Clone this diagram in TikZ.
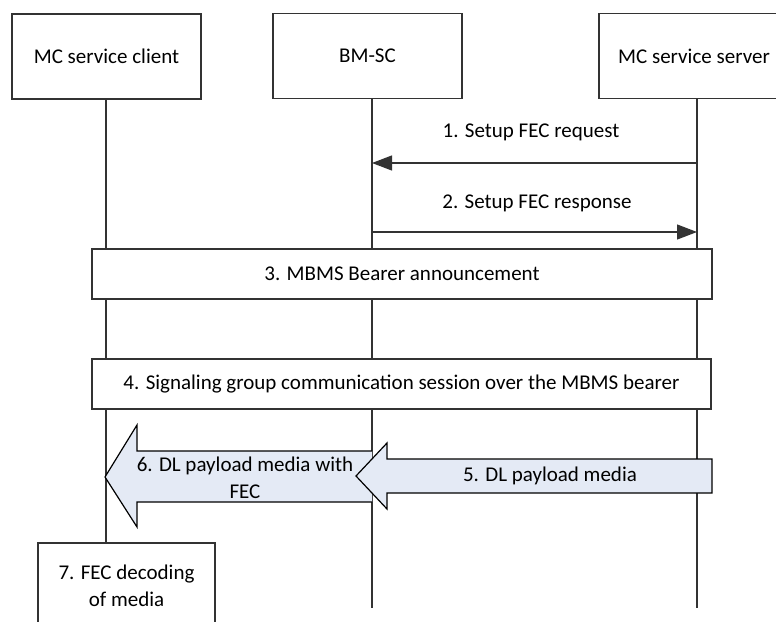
\documentclass[tikz,border=0pt]{standalone}
\usepackage{fontspec}
\setmainfont{Carlito}
\usetikzlibrary{positioning,arrows.meta}
\definecolor{ink}{HTML}{333333}
\definecolor{pale}{HTML}{E4EAF5}

\begin{document}
\begin{tikzpicture}[x=1pt, y=-1pt, >={Triangle[length=20pt,width=15pt]},
    font=\fontsize{21}{27}\selectfont, line width=1.3pt, draw=ink,
    entity/.style={draw=ink, minimum width=189pt, minimum height=85pt, inner sep=0pt},
    lifeline/.style={draw=ink, line width=1.2pt},
    msg/.style={draw=ink, line width=1.2pt, ->},
    bigarrow/.style={draw=black, line width=1.2pt, fill=pale}]
  \useasboundingbox (0,0) rectangle (776,621);

  % entities
  \node[entity] (client) at (106.5,56.5) {MC service client};
  \node[entity] (bmsc) at (367.5,56) {BM-SC};
  \node[entity, minimum width=190pt] (server) at (694,56) {MC service server};

  % lifelines
  \coordinate (c7) at (106,543);
  \coordinate (bend) at (372,608);
  \coordinate (send) at (697,608);
  \draw[lifeline] (106,99) -- (c7);
  \draw[lifeline] (372,98) -- (bend);
  \draw[lifeline] (697,98) -- (send);

  % 1 and 2
  \coordinate (s1) at (697,163); \coordinate (b1) at (372,163);
  \coordinate (b2) at (372,232); \coordinate (s2) at (697,232);
  \draw[msg] (s1) -- (b1);
  \node (m1) at (531,132) {1. Setup FEC request};
  \draw[msg] (b2) -- (s2);
  \node (m2) at (537,203) {2. Setup FEC response};

  % 3 and 4
  \node[draw=ink, fill=white, minimum width=620pt, minimum height=50pt, inner sep=0pt] (ann) at (402,274)
    {3. MBMS Bearer announcement};
  \node[draw=ink, fill=white, minimum width=619pt, minimum height=50pt, inner sep=0pt] (sig) at (401.5,384)
    {4. Signaling group communication session over the MBMS bearer};

  % 6 then 5
  \draw[bigarrow] (372,451) -- (137,451) -- (137,425) -- (105,477) -- (137,527) -- (137,502) -- (372,502);
  \node[align=center] (dl6) at (245,478) {6. DL payload media with\\FEC};
  \draw[bigarrow] (712,459) -- (387,459) -- (387,443) -- (356,476) -- (387,509) -- (387,493) -- (712,493) -- cycle;
  \node (dl5) at (550,476) {5. DL payload media};

  % 7
  \draw[draw=ink, fill=white] (38,640) -- (38,543) -- (215,543) -- (215,640);
  \node[align=center] (dec) at (126.5,586) {7. FEC decoding\\of media};
\end{tikzpicture}
\end{document}
